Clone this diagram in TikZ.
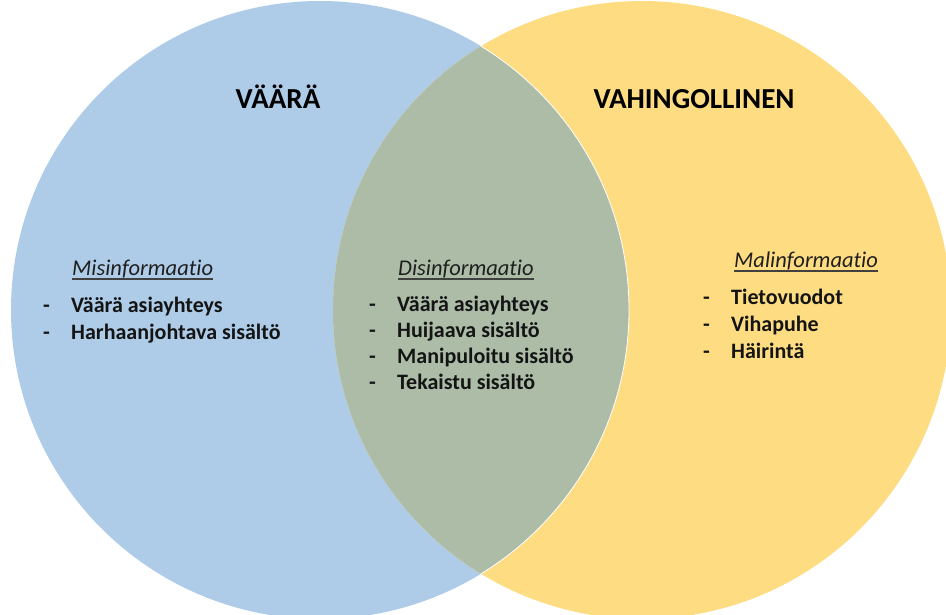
\documentclass[tikz,border=0pt]{standalone}
\usepackage{fontspec}
\setmainfont[Ligatures=NoCommon]{Carlito}
\usetikzlibrary{positioning}
\definecolor{vaaraBlue}{HTML}{AECCE8}
\definecolor{vahinkoYellow}{HTML}{FEDC82}
\definecolor{lensGreen}{HTML}{ACBCA7}
\begin{document}
\begin{tikzpicture}[x=1pt,y=-1pt,
	title/.style={font=\bfseries\fontsize{29}{34}\selectfont, inner sep=0, anchor=base},
	subhead/.style={font=\itshape\fontsize{22.5}{26}\selectfont, text=black!88, inner sep=0, anchor=base west},
	itemtext/.style={font=\bfseries\fontsize{22}{26}\selectfont, text=black!92, inner sep=0, anchor=base west},
	ul/.style={line width=1.1pt, black!75}]
			\useasboundingbox (0,0) rectangle (946,615);
			%circles
			\fill[vaaraBlue] (320,310) circle (309pt);
			\fill[vahinkoYellow] (642,310) circle (309pt);
			\begin{scope}
				\clip (320,310) circle (309pt);
				\fill[lensGreen] (642,310) circle (309pt);
			\end{scope}
			\begin{scope}
				\clip (642,310) circle (309pt);
				\draw[white, line width=0.8pt] (320,310) circle (309pt);
			\end{scope}
			
			%titles
			\node[title] (vaara) at (278,109) {VÄÄRÄ};
			\node[title] (vahingollinen) at (694,109) {VAHINGOLLINEN};
			
			%left
			\node[subhead] (mis) at (72,275) {Misinformaatio};
			\draw[ul] ([yshift=-4pt]mis.base west) -- ([yshift=-4pt]mis.base east);
			\foreach \t [count=\i from 0] in {Väärä asiayhteys, Harhaanjohtava sisältö}{
				\node[itemtext] (mis\i) at (71, 312+27*\i) {\t};
				\node[itemtext, anchor=base east] (misd\i) at ([xshift=-21pt]mis\i.base west) {-};
			}
			
			%middle
			\node[subhead] (dis) at (398,275) {Disinformaatio};
			\draw[ul] ([yshift=-4pt]dis.base west) -- ([yshift=-4pt]dis.base east);
			\foreach \t [count=\i from 0] in {Väärä asiayhteys, Huijaava sisältö, Manipuloitu sisältö, Tekaistu sisältö}{
				\node[itemtext] (dis\i) at (397, 311+26*\i) {\t};
				\node[itemtext, anchor=base east] (disd\i) at ([xshift=-21pt]dis\i.base west) {-};
			}
			
			%right
			\node[subhead] (mal) at (734,267) {Malinformaatio};
			\draw[ul] ([yshift=-4pt]mal.base west) -- ([yshift=-4pt]mal.base east);
			\foreach \t [count=\i from 0] in {Tietovuodot, Vihapuhe, Häirintä}{
				\node[itemtext] (mal\i) at (731, 304+27*\i) {\t};
				\node[itemtext, anchor=base east] (mald\i) at ([xshift=-21pt]mal\i.base west) {-};
			}
		\end{tikzpicture}
\end{document}
